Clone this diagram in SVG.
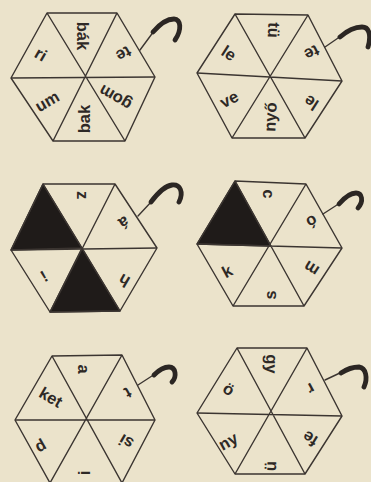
<svg xmlns="http://www.w3.org/2000/svg" width="371" height="482" viewBox="0 0 371 482">
<style>
.edge{fill:none;stroke:#3b3531;stroke-width:1.4;stroke-linejoin:round}
.dark{fill:#1f1b19;stroke:#3b3531;stroke-width:1.4;stroke-linejoin:round}
.lbl{font-family:"Liberation Sans",Arial,sans-serif;font-weight:bold;font-size:16.5px;fill:#2e2926;text-anchor:middle;dominant-baseline:central}
.handle{fill:none;stroke:#3b3531;stroke-width:1.4;stroke-linecap:round}
.hook{fill:none;stroke:#2b2623;stroke-width:4.8;stroke-linecap:round;stroke-linejoin:round}
</style>
<rect x="0" y="0" width="371" height="482" fill="#ebe3cb"/>

<g id="hex1">
<polygon class="edge" points="47,13 117,13 155,77 125,141 53,141 11,78"/>
<path class="edge" d="M11,78 L155,77 M47,13 L125,141 M117,13 L53,141"/>
<text class="lbl" transform="translate(83,36) rotate(90)">bák</text>
<text class="lbl" transform="translate(124,54) rotate(150)">te</text>
<text class="lbl" transform="translate(115,98) rotate(210)">gom</text>
<text class="lbl" transform="translate(84,119) rotate(270)">bak</text>
<text class="lbl" transform="translate(47,101) rotate(330)">um</text>
<text class="lbl" transform="translate(41,54) rotate(30)">ri</text>
</g>

<g id="hex2">
<polygon class="edge" points="235,14 308,15 342,81 305,138 232,138 197,73"/>
<path class="edge" d="M197,73 L342,81 M235,14 L305,138 M308,15 L232,138"/>
<text class="lbl" transform="translate(274,30) rotate(93)">tü</text>
<text class="lbl" transform="translate(312,53) rotate(153)">te</text>
<text class="lbl" transform="translate(311,103) rotate(213)">le</text>
<text class="lbl" transform="translate(270,117) rotate(273)">nyő</text>
<text class="lbl" transform="translate(229,99) rotate(333)">ve</text>
<text class="lbl" transform="translate(229,53) rotate(33)">le</text>
</g>

<g id="hex3">
<polygon class="dark" points="43,184 11,250 82,248"/>
<polygon class="dark" points="82,248 50,312 120,311"/>
<polygon class="edge" points="43,184 115,184 157,248 120,311 50,312 11,250"/>
<path class="edge" d="M11,250 L157,248 M43,184 L120,311 M115,184 L50,312"/>
<text class="lbl" transform="translate(83,195) rotate(90)">z</text>
<text class="lbl" transform="translate(124,223) rotate(150)">á</text>
<text class="lbl" transform="translate(124,281) rotate(210)">h</text>
<text class="lbl" transform="translate(44,276) rotate(330)">!</text>
</g>

<g id="hex4">
<polygon class="dark" points="235,181 197,244 271,246"/>
<polygon class="edge" points="235,181 306,184 342,248 304,306 233,306 197,244"/>
<path class="edge" d="M197,244 L342,248 M235,181 L304,306 M306,184 L233,306"/>
<text class="lbl" transform="translate(269,194) rotate(92)">c</text>
<text class="lbl" transform="translate(312,222) rotate(152)">ó</text>
<text class="lbl" transform="translate(311,269) rotate(212)">m</text>
<text class="lbl" transform="translate(270,295) rotate(272)">s</text>
<text class="lbl" transform="translate(227,271) rotate(332)">k</text>
</g>

<g id="hex5">
<polygon class="edge" points="52,356 122,355 155,420 122,483 50,483 15,420"/>
<path class="edge" d="M15,420 L155,420 M52,356 L122,483 M122,355 L50,483"/>
<text class="lbl" transform="translate(84,369) rotate(90)">a</text>
<text class="lbl" transform="translate(128,393) rotate(150)">t</text>
<text class="lbl" transform="translate(126,442) rotate(210)">si</text>
<text class="lbl" transform="translate(84,473) rotate(270)">i</text>
<text class="lbl" transform="translate(40,445) rotate(330)">d</text>
<text class="lbl" transform="translate(51,397) rotate(30)">ket</text>
</g>

<g id="hex6">
<polygon class="edge" points="237,348 307,348 342,416 305,474 235,474 197,413"/>
<path class="edge" d="M197,413 L342,416 M237,348 L305,474 M307,348 L235,474"/>
<text class="lbl" transform="translate(272,364) rotate(91)">gy</text>
<text class="lbl" transform="translate(311,389) rotate(151)">r</text>
<text class="lbl" transform="translate(310,439) rotate(211)">fe</text>
<text class="lbl" transform="translate(270,466) rotate(271)">ü</text>
<text class="lbl" transform="translate(228,441) rotate(331)">ny</text>
<text class="lbl" transform="translate(229,389) rotate(31)">ö</text>
</g>

<g id="connectors">
<path class="handle" d="M140,50 L154,31"/>
<path class="hook" d="M153,32 C159,25 166,19 174,19 C181,19 182,30 175,40"/>
<path class="handle" d="M325,47 L341,36"/>
<path class="hook" d="M340,37 C348,30 356,27 362,27 C370,27 371,37 368,47"/>
<path class="handle" d="M138,216 L152,201"/>
<path class="hook" d="M151,202 C157,194 164,186 172,185 C180,184 184,192 179,202"/>
<path class="handle" d="M323,214 L340,203"/>
<path class="hook" d="M339,204 C345,197 350,193 356,193 C362,193 364,201 358,208"/>
<path class="handle" d="M138,385 L155,374"/>
<path class="hook" d="M154,375 C159,370 164,367 169,367 C176,367 177,377 172,382"/>
<path class="handle" d="M325,380 L342,372"/>
<path class="hook" d="M341,373 C347,369 353,367 359,367 C366,368 368,378 364,387"/>
</g>
</svg>
